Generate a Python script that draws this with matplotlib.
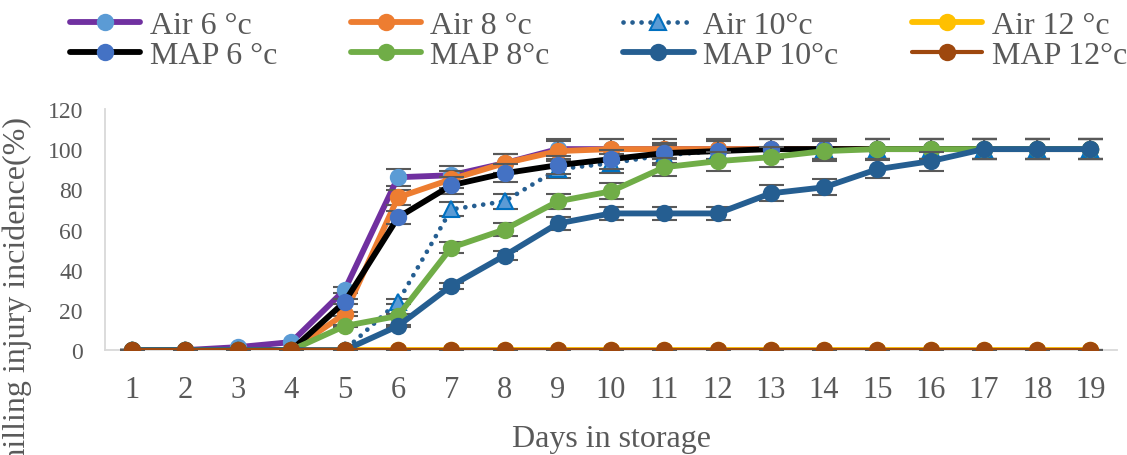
import matplotlib.pyplot as plt

plt.rcParams['font.family'] = ['Liberation Serif', 'DejaVu Serif']

# Data
days = list(range(1, 20))
air_6 = [0, 0, 1.5, 4, 30, 86, 87, 93, 100, 100, 100, 100, 100, 100, 100, 100, 100, 100, 100]
air_8 = [0, 0, 0, 0, 18, 76, 85, 93, 99, 100, 100, 100, 100, 100, 100, 100, 100, 100, 100]
air_10 = [0, 0, 0, 0, 0, 24, 70, 74, 90, 93, 97, 99, 100, 100, 100, 100, 100, 100, 100]
air_12 = [0] * 19
map_6 = [0, 0, 0, 0, 24, 66, 82, 88, 92, 95, 98, 99, 100, 100, 100, 100, 100, 100, 100]
map_8 = [0, 0, 0, 0, 12, 17, 51, 60, 74, 79, 91, 94, 96, 99, 100, 100, 100, 100, 100]
map_10 = [0, 0, 0, 0, 0, 12, 32, 47, 63, 68, 68, 68, 78, 81, 90, 94, 100, 100, 100]
map_12 = [0] * 19
err_pct = 0.05  # 5 % error bars

series = [
    # label, values, line colour, marker, marker face, marker edge, linestyle, linewidth
    ("Air 6 °c", air_6, "#7030A0", "o", "#5B9BD5", "#5B9BD5", "-", 4.2),
    ("Air 8 °c", air_8, "#ED7D31", "o", "#ED7D31", "#ED7D31", "-", 4.2),
    ("Air 10°c", air_10, "#255E91", "^", "#5B9BD5", "#0070C0", (0, (0.01, 1.9)), 3.4),
    ("Air 12 °c", air_12, "#FFC000", "o", "#FFC000", "#FFC000", "-", 4.2),
    ("MAP 6 °c", map_6, "#000000", "o", "#4472C4", "#4472C4", "-", 4.2),
    ("MAP 8°c", map_8, "#70AD47", "o", "#70AD47", "#70AD47", "-", 4.2),
    ("MAP 10°c", map_10, "#255E91", "o", "#255E91", "#255E91", "-", 4.2),
    ("MAP 12°c", map_12, "#9E480E", "o", "#9E480E", "#9E480E", "-", 3.0),
]

fig = plt.figure(figsize=(11.27, 4.56), dpi=100)
ax = fig.add_axes([0.0932, 0.230, 0.898, 0.529])

handles = []
for i, (label, vals, lc, mk, mfc, mec, ls, lw) in enumerate(series):
    z = 2 + i * 0.1
    yerr = [v * err_pct for v in vals]
    ax.errorbar(days, vals, yerr=yerr, fmt="none", ecolor="#595959",
                elinewidth=1.2, capsize=9, capthick=1.5, zorder=z)
    line, = ax.plot(days, vals, color=lc, linestyle=ls, linewidth=lw,
                    marker=mk, markersize=11, markerfacecolor=mfc,
                    markeredgecolor=mec, markeredgewidth=1.5,
                    dash_capstyle="round", solid_capstyle="round",
                    label=label, zorder=z + 0.05)
    handles.append(line)

ax.set_xlim(0.5, 19.5)
ax.set_ylim(0, 120)
ax.set_xticks(days)
ax.set_yticks(range(0, 121, 20))
ax.tick_params(axis="both", length=0, colors="#595959")
ax.tick_params(axis="x", pad=18, labelsize=22)
ax.tick_params(axis="y", pad=16, labelsize=17)
for side in ["top", "right"]:
    ax.spines[side].set_visible(False)
for side in ["left", "bottom"]:
    ax.spines[side].set_color("#D9D9D9")
    ax.spines[side].set_linewidth(1.3)

ax.set_xlabel("Days in storage", fontsize=23, color="#595959", labelpad=14)
fig.text(0.015, 0.34, "Chilling injury incidence(%)", rotation=90,
         ha="center", va="center", fontsize=23, color="#595959")

# legend: row 1 = Air, row 2 = MAP (matplotlib fills column by column)
order = [0, 4, 1, 5, 2, 6, 3, 7]
leg = fig.legend([handles[k] for k in order], [series[k][0] for k in order],
                 ncol=4, loc="upper left", bbox_to_anchor=(0.062, 0.975),
                 frameon=False, fontsize=23, handlelength=2.2,
                 handletextpad=0.3, columnspacing=2.3, labelspacing=0.03,
                 borderpad=0, borderaxespad=0, numpoints=1)
for t in leg.get_texts():
    t.set_color("#595959")

fig.savefig("out.png", dpi=100)
